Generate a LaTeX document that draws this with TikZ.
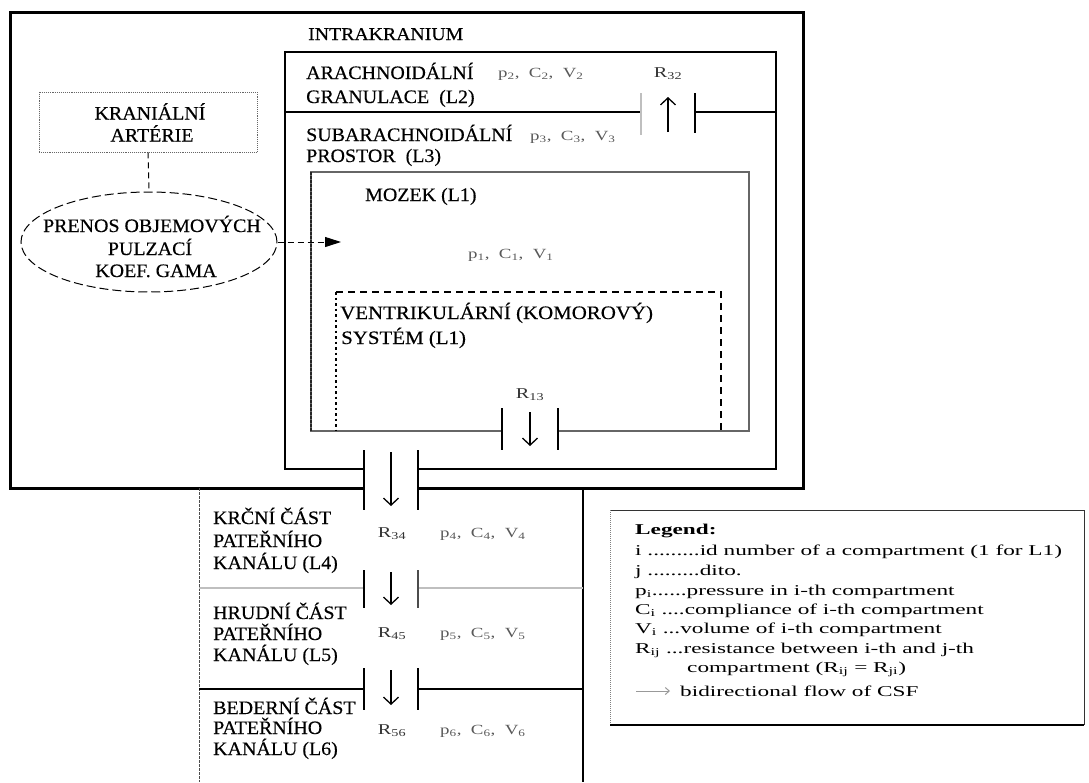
\documentclass[tikz,border=0pt]{standalone}
\usepackage{fontspec}
\setmainfont{Liberation Serif}
\newfontfamily\capf[FakeStretch=1.05,FakeBold=0.4]{Liberation Serif}
\newfontfamily\capw[FakeStretch=1.1,FakeBold=0.4]{Liberation Serif}
\newfontfamily\parf[FakeStretch=1.35]{Liberation Serif}
\newfontfamily\legf[FakeStretch=1.55]{Liberation Serif}
\usetikzlibrary{arrows.meta,shapes.geometric}
\newcommand{\sbx}[1]{\textsubscript{#1}}
\tikzset{
  captxt/.style={anchor=base west, inner sep=0pt, font=\capf\fontsize{19}{22}\selectfont},
  captxc/.style={anchor=base, inner sep=0pt, font=\capf\fontsize{19}{22}\selectfont},
  plab/.style={anchor=base west, inner sep=0pt, text=black!65, font=\parf\fontsize{14}{16}\selectfont},
  rlab/.style={anchor=base, inner sep=0pt, text=black!80, font=\parf\fontsize{15}{16}\selectfont},
  legtxt/.style={anchor=base west, inner sep=0pt, font=\legf\fontsize{15}{18}\selectfont},
  flow/.style={line width=1.3pt, -{Straight Barb[length=7pt,width=15pt,line width=1.3pt]}},
  bar/.style={line width=2.6pt},
  thinbar/.style={line width=1.6pt},
  wall/.style={line width=1.5pt, line join=miter},
}
\begin{document}
\begin{tikzpicture}[x=1pt,y=-1pt]
\path[use as bounding box] (0,0) rectangle (1089,782);

% outer box (intracranial space)
\draw[line width=3pt, line join=miter] (364,488) -- (10,488) -- (10,12) -- (803,12) -- (803,488) -- (418,488);
% inner box
\draw[wall] (364,469) -- (285,469) -- (285,52) -- (776,52) -- (776,469) -- (418,469);
% L2 / L3 divider
\draw[line width=1.2pt] (285,112) -- (641,112);
\draw[line width=1.2pt] (695,112) -- (776,112);
\draw[line width=2pt, black!25] (641,93) -- (641,135);
\draw[line width=1.2pt] (695,93) -- (695,133);
\coordinate (r32s) at (668,132);
\coordinate (r32e) at (668,97);
\draw[flow] (r32s) -- (r32e);

% Mozek box
\draw[black!60, line width=1.3pt] (502,431) -- (311,431) -- (311,172) -- (749,172) -- (749,431) -- (558,431);
\draw[black!85, line width=1.3pt, dash pattern=on 3pt off 1pt] (311,172) -- (311,431);
% ventricular box
\draw[line width=1.2pt, dash pattern=on 7pt off 5pt] (336,292) -- (721,292) -- (721,431);
\draw[line width=2.5pt, dash pattern=on 2.5pt off 3pt] (336,292) -- (336,431);
% R13
\draw[thinbar] (502,408) -- (502,450);
\draw[thinbar] (558,408) -- (558,450);
\coordinate (r13s) at (530,412);
\coordinate (r13e) at (530,446);
\draw[flow] (r13s) -- (r13e);

% R34 (intracranium -> spine)
\draw[bar] (364,450) -- (364,510);
\draw[bar] (418,450) -- (418,510);
\coordinate (r34s) at (391,452);
\coordinate (r34e) at (391,506);
\draw[flow] (r34s) -- (r34e);

% spine box
\draw[black!70, line width=1pt, dash pattern=on 3pt off 1pt] (199,488) -- (199,782);
\draw[line width=1.3pt] (583,488) -- (583,782);
\draw[black!25, line width=2pt] (199,588) -- (364,588);
\draw[black!25, line width=2pt] (418,588) -- (583,588);
\draw[line width=2.4pt] (199,689) -- (364,689);
\draw[line width=2.4pt] (418,689) -- (583,689);
\draw[bar] (364,570) -- (364,608);
\draw[bar, black!70] (418,570) -- (418,608);
\coordinate (r45s) at (391,572);
\coordinate (r45e) at (391,605);
\draw[flow] (r45s) -- (r45e);
\draw[bar] (364,668) -- (364,710);
\draw[bar] (418,668) -- (418,710);
\coordinate (r56s) at (391,670);
\coordinate (r56e) at (391,705);
\draw[flow] (r56s) -- (r56e);

% cranial arteries and transfer ellipse
\node[draw=black!60, densely dotted, line width=0.9pt, minimum width=218pt, minimum height=60pt, inner sep=0pt] (kran) at (148,122) {};
\node[ellipse, draw, line width=1pt, dash pattern=on 9pt off 4pt, minimum width=256pt, minimum height=100pt, inner sep=0pt] (ell) at (149,242) {};
\coordinate (mz) at (341,242);
\draw[line width=1pt, dash pattern=on 6pt off 4pt] (kran.south) -- (ell.north);
\draw[line width=1pt, dash pattern=on 6pt off 4pt, -{Triangle[length=16pt,width=10pt]}] (ell.east) -- (mz);

% texts
\node[captxc] (t1) at (150,119.5) {KRANIÁLNÍ};
\node[captxc] (t2) at (152,141.5) {ARTÉRIE};
\node[captxc] (t3) at (152,232) {PRENOS OBJEMOVÝCH};
\node[captxc] (t4) at (150,255) {PULZACÍ};
\node[captxc] (t5) at (156,277) {KOEF. GAMA};

\node[captxt, font=\capw\fontsize{18}{22}\selectfont] (t6) at (308,40) {INTRAKRANIUM};
\node[captxt] (t7) at (306,79) {ARACHNOIDÁLNÍ};
\node[captxt] (t8) at (306,103) {GRANULACE\hspace{10pt}(L2)};
\node[captxt] (t9) at (306,141) {SUBARACHNOIDÁLNÍ};
\node[captxt] (t10) at (306,162) {PROSTOR\hspace{10pt}(L3)};
\node[plab] (p2) at (498,77) {p\sbx{2}, \ C\sbx{2}, \ V\sbx{2}};
\node[plab] (p3) at (530,140) {p\sbx{3}, \ C\sbx{3}, \ V\sbx{3}};
\node[rlab] (r32) at (668,77) {R\sbx{32}};

\node[captxt] (t11) at (365,201) {MOZEK (L1)};
\node[plab] (p1) at (468,258) {p\sbx{1}, \ C\sbx{1}, \ V\sbx{1}};
\node[captxt, font=\capw\fontsize{19}{22}\selectfont] (t12) at (340,319) {VENTRIKULÁRNÍ (KOMOROVÝ)};
\node[captxt, font=\capw\fontsize{19}{22}\selectfont] (t13) at (341,344) {SYSTÉM (L1)};
\node[rlab] (r13) at (530,398) {R\sbx{13}};

\node[captxt] (t14) at (213,524) {KRČNÍ ČÁST};
\node[captxt] (t15) at (213,547) {PATEŘNÍHO};
\node[captxt] (t16) at (213,569) {KANÁLU (L4)};
\node[rlab] (r34) at (392,537) {R\sbx{34}};
\node[plab] (p4) at (440,537) {p\sbx{4}, \ C\sbx{4}, \ V\sbx{4}};

\node[captxt] (t17) at (213,619) {HRUDNÍ ČÁST};
\node[captxt] (t18) at (213,640) {PATEŘNÍHO};
\node[captxt] (t19) at (213,661) {KANÁLU (L5)};
\node[rlab] (r45) at (392,637) {R\sbx{45}};
\node[plab] (p5) at (440,637) {p\sbx{5}, \ C\sbx{5}, \ V\sbx{5}};

\node[captxt] (t20) at (213,714) {BEDERNÍ ČÁST};
\node[captxt] (t21) at (213,734) {PATEŘNÍHO};
\node[captxt] (t22) at (213,755) {KANÁLU (L6)};
\node[rlab] (r56) at (392,734) {R\sbx{56}};
\node[plab] (p6) at (440,734) {p\sbx{6}, \ C\sbx{6}, \ V\sbx{6}};

% legend
\draw[black!80, line width=1pt] (610,510) -- (1084,510) -- (1084,725);
\draw[black!50, line width=1pt, densely dotted] (610,510) -- (610,725);
\draw[line width=2pt] (610,725) -- (1084,725);
\node[legtxt, font=\legf\bfseries\fontsize{15}{18}\selectfont] (l0) at (635,534) {Legend:};
\node[legtxt] (l1) at (635,555) {i .........id number of a compartment (1 for L1)};
\node[legtxt] (l2) at (635,575) {j .........dito.};
\node[legtxt] (l3) at (635,595) {p\sbx{i}......pressure in i-th compartment};
\node[legtxt] (l4) at (635,614) {C\sbx{i} ....compliance of i-th compartment};
\node[legtxt] (l5) at (635,633) {V\sbx{i} ...volume of i-th compartment};
\node[legtxt] (l6) at (635,653) {R\sbx{ij} ...resistance between i-th and j-th};
\node[legtxt] (l7) at (687,672) {compartment (R\sbx{ij} = R\sbx{ji})};
\coordinate (la) at (636,691);
\coordinate (lb) at (670,691);
\draw[black!40, line width=1pt, -{Straight Barb[length=4pt,width=7pt]}] (la) -- (lb);
\node[legtxt] (l8) at (680,696) {bidirectional flow of CSF};
\end{tikzpicture}
\end{document}
